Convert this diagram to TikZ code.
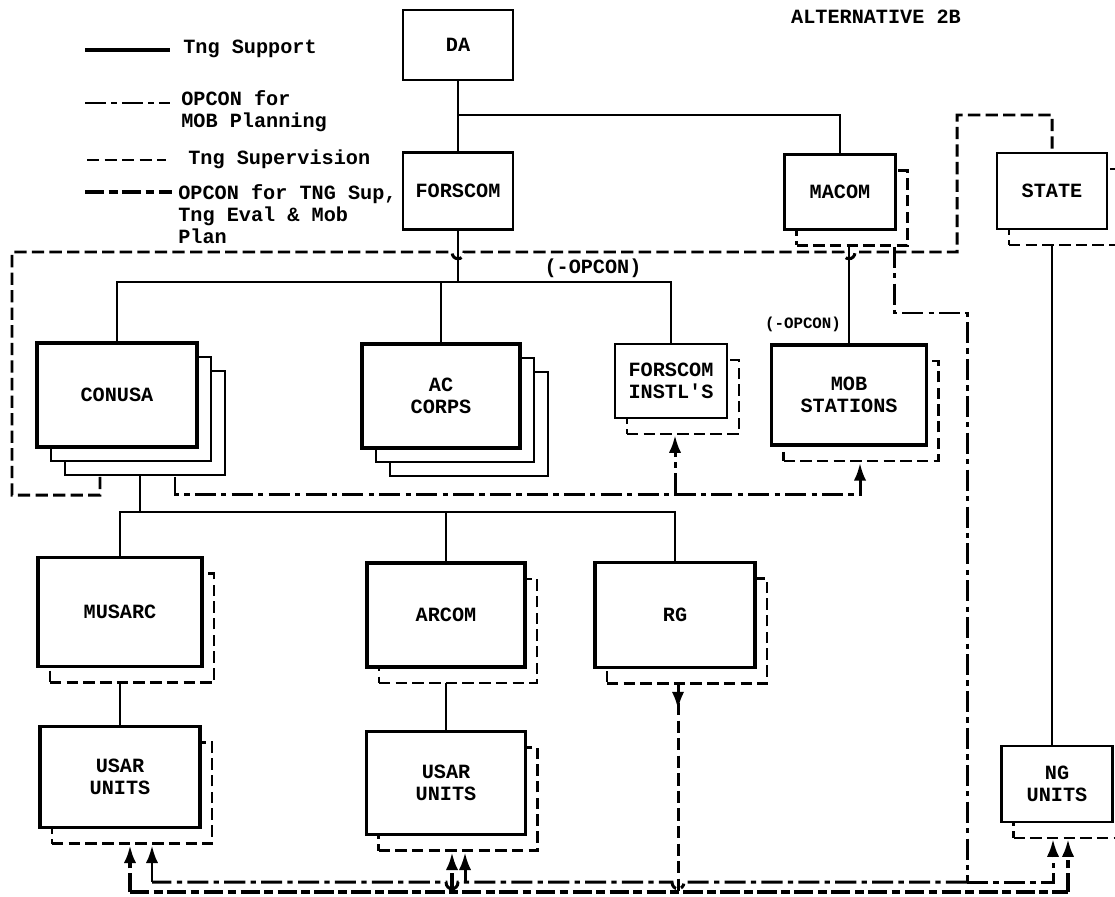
\documentclass[tikz,border=0pt]{standalone}
\usepackage{fontspec}
\setmonofont{Liberation Mono}
\usetikzlibrary{arrows.meta,shadows,backgrounds,calc}

\newcommand\orgfont{\fontsize{11.5}{12.5}\selectfont\ttfamily\bfseries}

\tikzset{
  unit/.style={draw, fill=white, line width=1.4pt, font=\orgfont, align=center},
  bigunit/.style={unit, line width=2.2pt},
  dshadow/.style={copy shadow={shadow xshift=0.24cm, shadow yshift=-0.32cm,
      line width=1.5pt, dash pattern=on 6.5pt off 3pt}},
  stack/.style={copy shadow={shadow xshift=0.56cm, shadow yshift=-0.56cm, line width=1.4pt},
      copy shadow={shadow xshift=0.28cm, shadow yshift=-0.28cm, line width=1.4pt}},
  legtext/.style={font=\orgfont, align=left, inner sep=0pt},
  support/.style={line width=1pt},
  mobplan/.style={line width=1.7pt, dash pattern=on 12pt off 3pt on 3pt off 3pt},
  tngsv/.style={line width=1.7pt, dash pattern=on 7pt off 3pt},
  opconsup/.style={line width=1.8pt, dash pattern=on 11pt off 2.5pt on 5pt off 2.5pt},
  pointer/.style={-{Latex[length=10pt,width=7pt]}},
}

\begin{document}
\begin{tikzpicture}[x=0.02cm, y=-0.02cm]
    \useasboundingbox (0,0) rectangle (1115,896);

    % Legend
    \draw[support, line width=1.8pt] (85,50) -- (170,50);
    \node[legtext, anchor=west] (lg1) at (183,49) {Tng Support};
    \draw[mobplan] (85,103) -- (170,103);
    \node[legtext, anchor=north west] (lg2) at (181,90) {OPCON for\\MOB Planning};
    \draw[tngsv] (87,160) -- (166,160);
    \node[legtext, anchor=west] (lg3) at (188,159) {Tng Supervision};
    \draw[opconsup] (85,192) -- (172,192);
    \node[legtext, anchor=north west] (lg4) at (178,184) {OPCON for TNG Sup,\\Tng Eval \& Mob\\Plan};

    \node[font=\orgfont] (title) at (876,17) {ALTERNATIVE 2B};

    % Top level
    \node[unit, minimum width=2.2cm, minimum height=1.4cm] (da) at (458,45) {DA};
    \node[unit, minimum width=2.2cm, minimum height=1.54cm] (forscom) at (458,191) {FORSCOM};
    \node[unit, dshadow, minimum width=2.22cm, minimum height=1.5cm] (macom) at (840,192) {MACOM};
    \node[unit, dshadow, minimum width=2.2cm, minimum height=1.52cm] (state) at (1052,191) {STATE};

    % Second level
    \node[bigunit, stack, minimum width=3.2cm, minimum height=2.08cm] (conusa) at (117,395) {CONUSA};
    \node[bigunit, stack, minimum width=3.16cm, minimum height=2.08cm] (accorps) at (441,396) {AC\\CORPS};
    \node[unit, dshadow, minimum width=2.24cm, minimum height=1.48cm] (finstl) at (671,381) {FORSCOM\\INSTL'S};
    \node[bigunit, dshadow, minimum width=3.1cm, minimum height=2.0cm] (mob) at (849,395) {MOB\\STATIONS};
    \node[font=\orgfont] (opc1) at (593,268) {(-OPCON)};
    \node[font=\fontsize{9}{10}\selectfont\ttfamily\bfseries] (opc2) at (803,324) {(-OPCON)};

    % Third level
    \node[bigunit, dshadow, minimum width=3.28cm, minimum height=2.18cm] (musarc) at (120,612) {MUSARC};
    \node[bigunit, dshadow, minimum width=3.16cm, minimum height=2.08cm] (arcom) at (446,615) {ARCOM};
    \node[bigunit, dshadow, minimum width=3.2cm, minimum height=2.1cm] (rg) at (675,615) {RG};

    % Units
    \node[bigunit, dshadow, minimum width=3.2cm, minimum height=2.02cm] (usar1) at (120,777) {USAR\\UNITS};
    \node[bigunit, dshadow, minimum width=3.18cm, minimum height=2.06cm] (usar2) at (446,783) {USAR\\UNITS};
    \node[unit, dshadow, minimum width=2.22cm, minimum height=1.52cm] (nc) at (1057,784) {NG\\UNITS};

    % Named points
    \coordinate (j1) at (458,115);
    \coordinate (bus1) at (458,282);
    \coordinate (bus2) at (140,512);
    \coordinate (usar1b) at ($(usar1.south)+(0,16)$);
    \coordinate (usar2b) at ($(usar2.south)+(0,16)$);
    \coordinate (ncb) at ($(nc.south)+(0,16)$);
    \coordinate (mpm) at ($(macom.south east)+(-2,16)$);
    \coordinate (mpr) at (967,313);
    \coordinate (mpc) at (967,882);
    \coordinate (ub1) at (152,882);
    \coordinate (ub2) at (465,882);
    \coordinate (ub3) at (1053,882);
    \coordinate (lo1) at (130,892);
    \coordinate (lo2) at (452,892);
    \coordinate (lo3) at (1068,892);
    \coordinate (rgb) at ($(rg.south)+(3,16)$);
    \coordinate (cmp) at ($(conusa.south)+(58,28)$);
    \coordinate (mobb) at ($(mob.south)+(11,16)$);
    \coordinate (finb) at ($(finstl.south)+(4,16)$);
    \coordinate (mprow) at (0,494);
    \coordinate (sv0) at ($(conusa.south)+(-17,28)$);

    \begin{pgfonlayer}{background}
    % Tng support
    \draw[support] (da) -- (forscom);
    \draw[support] (j1) -| (macom);
    \draw[support] (forscom) -- (bus1);
    \draw[support] (conusa) |- (bus1) -| (finstl);
    \draw[support] (accorps) -- (accorps |- bus1);
    \draw[support] (mob) -- (mob |- macom);
    \draw[support] (bus2) -- (bus2 |- conusa);
    \draw[support] (musarc) |- (bus2) -| (rg);
    \draw[support] (arcom) -- (arcom |- bus2);
    \draw[support] (musarc) -- (usar1);
    \draw[support] (arcom) -- (usar2);
    \draw[support] (state) -- (state |- nc);

    % Tng supervision
    \draw[tngsv] (sv0) -- (100,495) -- (12,495) -- (12,252) -- (452,252)
        .. controls (452,261) and (464,261) .. (464,252) -- (843,252)
        .. controls (843,261) and (855,261) .. (855,252) -- (957,252)
        -- (957,115) -| (state.north);
    \draw[tngsv] (rgb) -- (rgb |- lo1);
    \draw[tngsv, pointer] (rgb) -- ($(rgb)+(0,24)$);

    % OPCON for MOB planning
    \draw[mobplan, pointer] (cmp) |- (mobb |- mprow) -- (mobb);
    \draw[mobplan, pointer] (finb |- mprow) -- (finb);
    \draw[mobplan] (mpm) |- (mpr) -- (mpc);
    \draw[mobplan, pointer] (mpc) -| (ub3 |- ncb);
    \draw[mobplan] (mpc) -- (684,882) .. controls (684,891) and (672,891) .. (672,882)
        -- (458,882) .. controls (458,891) and (446,891) .. (446,882) -- (ub1);
    \draw[mobplan, pointer] (ub1) -- (ub1 |- usar1b);
    \draw[mobplan, pointer] (ub2) -- (ub2 |- usar2b);

    % OPCON for Tng sup, eval and mob plan
    \draw[opconsup] (lo1) -- (lo3);
    \draw[opconsup, pointer] (lo1) -- (lo1 |- usar1b);
    \draw[opconsup, pointer] (lo2) -- (lo2 |- usar2b);
    \draw[opconsup, pointer] (lo3) -- (lo3 |- ncb);
    \end{pgfonlayer}
\end{tikzpicture}
\end{document}
